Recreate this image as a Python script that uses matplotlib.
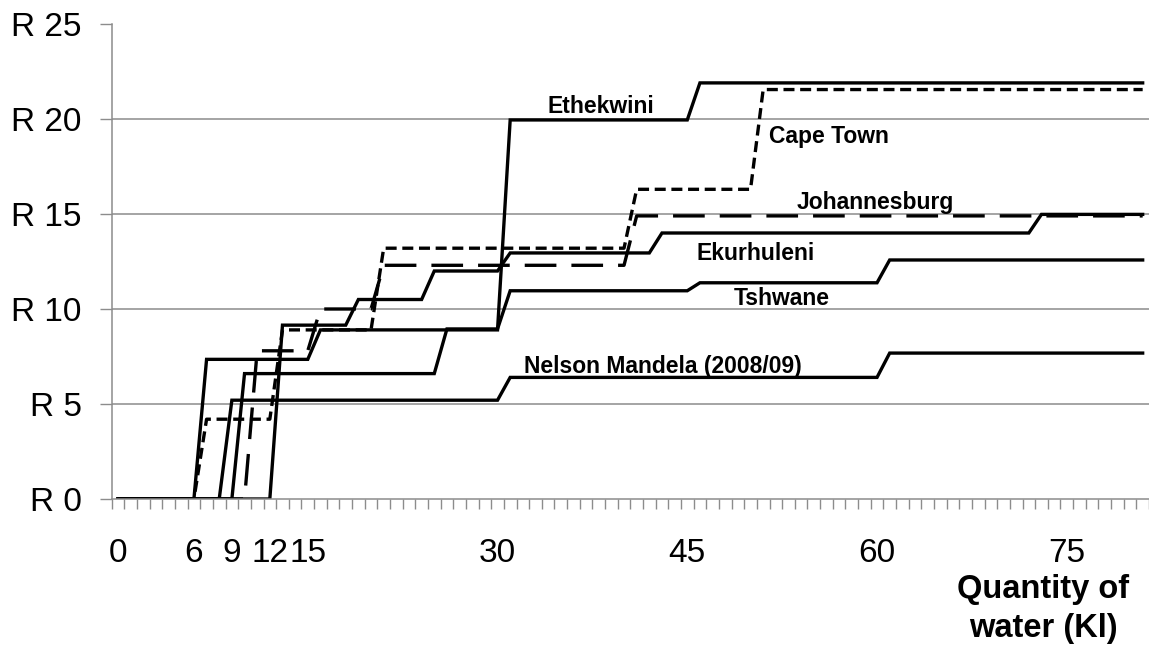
import numpy as np
import matplotlib
matplotlib.use("Agg")
import matplotlib.pyplot as plt

plt.rcParams['font.family'] = ['Liberation Sans', 'DejaVu Sans']

# quantity of water (kl), one category per kl
n_cat = 82
x_labels = [0, 6, 9, 12, 15, 30, 45, 60, 75]

# tariff steps: (first kl of block, cost in R)
ethekwini_steps = [(0, 0), (7, 7.35), (16, 8.9), (31, 19.95), (46, 21.9)]
cape_town_steps = [(0, 0), (7, 4.2), (13, 8.9), (21, 13.2), (41, 16.3), (51, 21.55)]
johannesburg_steps = [(0, 0), (11, 7.8), (16, 10.0), (21, 12.3), (41, 14.9)]
ekurhuleni_steps = [(0, 0), (13, 9.15), (19, 10.5), (25, 12.0), (31, 12.95), (43, 14.0), (73, 14.98)]
tshwane_steps = [(0, 0), (10, 6.6), (26, 8.95), (31, 10.96), (46, 11.38), (61, 12.58)]
nelson_steps = [(0, 0), (9, 5.2), (31, 6.4), (61, 7.68)]


def expand(steps):
    vals = np.zeros(n_cat)
    for start, v in steps:
        vals[start:] = v
    return vals


x = np.arange(n_cat)
W, H = 1149, 646
fig = plt.figure(figsize=(W / 100, H / 100), dpi=100)
ax = fig.add_axes([111.7 / W, 1 - 499 / H, (W - 111.7) / W, (499 - 24) / H])

lw = 2.4
ax.plot(x, expand(ethekwini_steps), color='black', lw=lw, solid_joinstyle='miter')
ax.plot(x, expand(ekurhuleni_steps), color='black', lw=lw, solid_joinstyle='miter')
ax.plot(x, expand(tshwane_steps), color='black', lw=lw, solid_joinstyle='miter')
ax.plot(x, expand(nelson_steps), color='black', lw=lw, solid_joinstyle='miter')
ax.plot(x, expand(cape_town_steps), color='black', lw=lw, dashes=(3.3, 1.7))
ax.plot(x, expand(johannesburg_steps), color='black', lw=lw, dashes=(9.5, 4.5))

ax.set_xlim(-0.5, -0.5 + (W - 111.7) / 12.83)
ax.set_ylim(0, 25)

grid_c = '#8c8c8c'
ax.set_yticks([0, 5, 10, 15, 20, 25])
ax.set_yticklabels(['R 0', 'R 5', 'R 10', 'R 15', 'R 20', 'R 25'])
for yv in [5, 10, 15, 20]:
    ax.axhline(yv, color=grid_c, lw=1.1, zorder=0)

ax.set_xticks(x_labels)
ax.set_xticklabels([str(v) for v in x_labels])
ax.set_xticks(np.arange(-0.5, n_cat, 1), minor=True)
ax.tick_params(axis='x', which='major', length=0, pad=28, labelsize=24)
ax.tick_params(axis='x', which='minor', length=7.5, color=grid_c, width=1, direction='out')
ax.tick_params(axis='y', which='major', length=8.5, color=grid_c, width=1,
               direction='out', pad=13, labelsize=24)

for s in ['top', 'right']:
    ax.spines[s].set_visible(False)
for s in ['left', 'bottom']:
    ax.spines[s].set_color(grid_c)
    ax.spines[s].set_linewidth(1.1)

lab = dict(fontsize=16.5, fontweight='bold', ha='center', va='baseline')
ax.text(38.2, 20.3, 'Ethekwini', **lab)
ax.text(56.2, 18.75, 'Cape Town', **lab)
ax.text(59.9, 15.25, 'Johannesburg', **lab)
ax.text(50.4, 12.58, 'Ekurhuleni', **lab)
ax.text(52.5, 10.2, 'Tshwane', **lab)
ax.text(43.1, 6.65, 'Nelson Mandela (2008/09)', **lab)

fig.text(1043 / W, 1 - 598 / H, 'Quantity of', fontsize=23.5, fontweight='bold',
         ha='center', va='baseline')
fig.text(1043 / W, 1 - 637 / H, 'water (Kl)', fontsize=23.5, fontweight='bold',
         ha='center', va='baseline')

fig.savefig('out.png', dpi=100)
